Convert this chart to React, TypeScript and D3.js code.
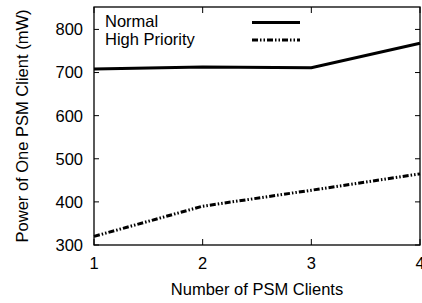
import * as React from 'react';
import { useEffect, useRef } from 'react';
import * as d3 from 'd3';

const clients = [1, 2, 3, 4];
const normal = [708, 713, 711, 768];
const highPriority = [320, 390, 427, 465];
const yTicks = [300, 400, 500, 600, 700, 800];
const seriesNames = ['Normal', 'High Priority'];

export default function App() {
    const svgRef = useRef<SVGSVGElement>(null);

    useEffect(() => {
        if (!svgRef.current) return;
        const width = 422;
        const height = 303;
        const margin = { top: 7, right: 2, bottom: 58, left: 94 };
        const w = width - margin.left - margin.right;
        const h = height - margin.top - margin.bottom;
        const font = '"Liberation Sans", Arial, Helvetica, sans-serif';
        const fs = 16.5;

        const svg = d3.select(svgRef.current);
        svg.selectAll('*').remove();

        const x = d3.scaleLinear().domain([1, 4]).range([0, w]);
        const y = d3.scaleLinear().domain([300, 852]).range([h, 0]);

        const g = svg.append('g')
            .attr('transform', `translate(${margin.left},${margin.top})`);

        // frame
        g.append('rect')
            .attr('width', w).attr('height', h)
            .attr('fill', 'none')
            .attr('stroke', '#000')
            .attr('stroke-width', 1.3);

        // ticks inside on all four sides
        yTicks.forEach(t => {
            g.append('line').attr('x1', 0).attr('x2', 5).attr('y1', y(t)).attr('y2', y(t))
                .attr('stroke', '#000').attr('stroke-width', 1);
            g.append('line').attr('x1', w).attr('x2', w - 5).attr('y1', y(t)).attr('y2', y(t))
                .attr('stroke', '#000').attr('stroke-width', 1);
            g.append('text')
                .attr('x', -11).attr('y', y(t))
                .attr('dy', '0.36em')
                .attr('text-anchor', 'end')
                .attr('font-family', font).attr('font-size', fs)
                .text(t);
        });
        clients.forEach(c => {
            g.append('line').attr('x1', x(c)).attr('x2', x(c)).attr('y1', h).attr('y2', h - 6)
                .attr('stroke', '#000').attr('stroke-width', 1);
            g.append('line').attr('x1', x(c)).attr('x2', x(c)).attr('y1', 0).attr('y2', 6)
                .attr('stroke', '#000').attr('stroke-width', 1);
            g.append('text')
                .attr('x', x(c)).attr('y', h + 18)
                .attr('dy', '0.36em')
                .attr('text-anchor', 'middle')
                .attr('font-family', font).attr('font-size', fs)
                .text(c);
        });

        const line = d3.line<number>()
            .x((_, i) => x(clients[i]))
            .y(d => y(d));

        const dash = '6,2,1.5,2,1.5,2';

        g.append('path')
            .datum(normal)
            .attr('fill', 'none')
            .attr('stroke', '#000')
            .attr('stroke-width', 3)
            .attr('d', line);

        g.append('path')
            .datum(highPriority)
            .attr('fill', 'none')
            .attr('stroke', '#000')
            .attr('stroke-width', 3)
            .attr('stroke-dasharray', dash)
            .attr('d', line);

        // legend
        seriesNames.forEach((name, i) => {
            const ly = 14.5 + i * 17.5;
            g.append('text')
                .attr('x', 11).attr('y', ly)
                .attr('dy', '0.36em')
                .attr('font-family', font).attr('font-size', fs)
                .text(name);
            g.append('line')
                .attr('x1', 158).attr('x2', 206)
                .attr('y1', ly + 1).attr('y2', ly + 1)
                .attr('stroke', '#000')
                .attr('stroke-width', 3)
                .attr('stroke-dasharray', i === 0 ? null : dash);
        });

        // axis titles
        svg.append('text')
            .attr('x', 257).attr('y', 289)
            .attr('dy', '0.36em')
            .attr('text-anchor', 'middle')
            .attr('font-family', font).attr('font-size', fs)
            .text('Number of PSM Clients');

        svg.append('text')
            .attr('transform', `translate(22,${margin.top + h / 2}) rotate(-90)`)
            .attr('dy', '0.36em')
            .attr('text-anchor', 'middle')
            .attr('font-family', font).attr('font-size', fs)
            .text('Power of One PSM Client (mW)');
    }, []);

    return (
        <svg ref={svgRef} width={422} height={303}
            style={{ position: 'absolute', left: 0, top: 0, background: '#fff' }} />
    );
}
